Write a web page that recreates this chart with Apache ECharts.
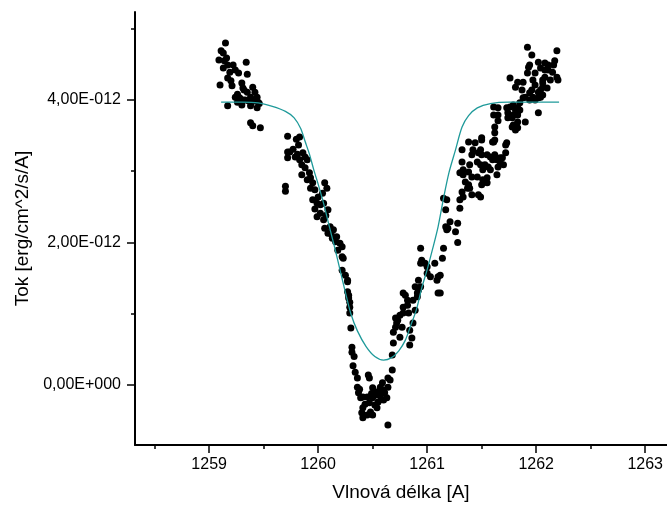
<!DOCTYPE html>
<html>
<head>
<meta charset="utf-8">
<title>Tok vs. vlnová délka</title>
<script src="https://cdn.jsdelivr.net/npm/echarts@6/dist/echarts.min.js"></script>
<style>
  html, body { margin: 0; padding: 0; background: #ffffff; }
  #chart { width: 667px; height: 510px; }
</style>
</head>
<body>
<div id="chart"></div>
<script>
// Observed spectrum around the absorption line: [wavelength (A), flux (1e-12 erg/cm^2/s/A)]
const blueContinuum = [
  [1259.15,4.80],[1259.11,4.69],[1259.13,4.66],[1259.09,4.56],[1259.16,4.59],[1259.34,4.53],[1259.13,4.45],
  [1259.17,4.49],[1259.22,4.49],[1259.24,4.42],[1259.19,4.39],[1259.27,4.38],[1259.35,4.36],[1259.17,4.31],
  [1259.30,4.24],[1259.10,4.21],[1259.21,4.20],[1259.31,4.17],[1259.40,4.18],[1259.35,4.11],[1259.42,4.11],
  [1259.24,4.04],[1259.28,4.03],[1259.38,4.04],[1259.44,4.04],[1259.26,3.97],[1259.31,4.00],[1259.39,3.97],
  [1259.45,3.97],[1259.17,3.92],[1259.30,3.93],[1259.38,3.92],[1259.44,3.89],[1259.38,3.68],[1259.40,3.64],
  [1259.47,3.61],[1259.20,4.27],[1259.33,4.00],[1259.26,4.08],[1259.36,3.99],[1259.41,4.00],[1259.14,4.55],
  [1259.32,4.14],[1259.46,3.95]
];
const blueWing = [
  [1259.72,3.49],[1259.80,3.45],[1259.83,3.48],[1259.82,3.37],[1259.72,3.27],[1259.74,3.27],[1259.77,3.31],
  [1259.86,3.26],[1259.72,3.19],[1259.79,3.20],[1259.83,3.16],[1259.90,3.16],[1259.85,3.09],[1259.88,3.05],
  [1259.85,2.95],[1259.70,2.79],[1259.70,2.72],[1259.90,2.88],[1259.93,2.91],[1259.95,2.84],[1259.93,2.76],
  [1259.97,2.74],[1260.06,2.84],[1260.08,2.76],[1260.04,2.69],[1259.95,2.60],[1259.99,2.55],[1260.02,2.53],
  [1260.05,2.55],[1260.09,2.46],[1259.99,2.36],[1260.02,2.41],[1260.05,2.32],[1260.06,2.20],[1260.11,2.22],
  [1260.14,2.18],[1260.09,2.13],[1260.13,2.06],[1260.17,2.08],[1260.16,2.01],[1260.20,1.99],[1260.22,1.94],
  [1260.18,1.89],[1260.22,1.80],[1260.23,1.78],[1260.22,1.61],[1260.25,1.54],[1260.27,1.47],[1260.27,1.31],
  [1260.28,1.26],[1260.29,1.16],[1260.29,1.09],[1259.81,3.24],[1259.88,3.20],[1259.92,2.98],[1260.00,2.64],
  [1260.07,2.38],[1260.12,2.12],[1259.97,2.47]
];
const lineCore = [
  [1260.27,1.45],[1260.28,1.22],[1260.29,1.01],[1260.30,0.80],[1260.31,0.53],[1260.31,0.46],[1260.32,0.27],
  [1260.34,0.18],[1260.36,0.10],[1260.36,-0.03],[1260.37,-0.11],[1260.39,-0.18],[1260.41,-0.17],[1260.45,-0.17],
  [1260.46,0.14],[1260.47,0.10],[1260.50,-0.04],[1260.52,-0.10],[1260.54,-0.14],[1260.50,-0.18],[1260.57,-0.03],
  [1260.59,0.03],[1260.60,-0.07],[1260.61,-0.11],[1260.57,-0.14],[1260.55,-0.24],[1260.52,-0.28],[1260.48,-0.38],
  [1260.45,-0.42],[1260.41,-0.32],[1260.40,-0.39],[1260.41,-0.46],[1260.50,-0.42],[1260.54,-0.32],[1260.64,0.10],
  [1260.66,0.07],[1260.64,-0.03],[1260.63,-0.18],[1260.60,-0.21],[1260.64,-0.56],[1260.47,-0.25],[1260.56,-0.08],
  [1260.58,-0.20],[1260.43,-0.27],[1260.49,-0.12],[1260.38,-0.06],[1260.33,0.40],
  [1260.68,0.21],[1260.68,0.42],[1260.69,0.59],[1260.69,0.74],[1260.71,0.81],[1260.72,0.87],[1260.73,0.91],
  [1260.75,0.98],[1260.71,0.94],[1260.77,0.81],[1260.75,0.67],[1260.78,1.09],[1260.82,1.12],[1260.80,1.26],
  [1260.83,1.01],[1260.84,0.77],[1260.86,0.66],[1260.84,0.56],[1260.89,1.05],[1260.91,1.24],[1260.92,1.33],
  [1260.94,1.38],[1260.92,1.47],[1261.09,1.47],[1261.10,1.29],[1260.87,0.87]
];
const redWing = [
  [1260.78,1.29],[1260.82,1.19],[1260.78,1.01],[1260.89,1.38],[1260.91,1.29],[1260.87,1.19],[1260.94,1.71],
  [1260.95,1.75],[1260.98,1.71],[1260.94,1.92],[1261.00,1.66],[1261.07,1.71],[1261.14,1.78],[1261.12,1.54],
  [1261.10,1.52],[1261.03,1.52],[1261.00,1.57],[1261.12,1.29],[1261.15,1.92],[1261.28,2.00],[1261.26,2.15],
  [1261.28,2.27],[1261.18,2.18],[1261.17,2.22],[1261.21,2.29],[1261.19,2.20],[1261.17,2.46],[1261.18,2.60],
  [1261.15,2.62],[1261.30,2.48],[1261.30,2.60],[1261.33,2.64],[1261.32,2.71],[1261.37,2.76],[1261.38,2.81],
  [1261.39,2.76],[1261.35,2.85],[1261.33,2.95],[1261.30,2.98],[1261.38,2.99],[1261.41,2.92],[1261.32,3.13],
  [1261.33,3.02],[1261.39,3.09],[1261.42,3.30],[1261.41,3.23],[1261.32,3.30],[1261.38,3.41],[1261.44,3.40],
  [1261.47,3.26],[1261.49,3.30],[1261.50,3.44],[1261.46,3.13],[1261.49,3.09],[1261.53,3.09],[1261.51,3.02],
  [1261.56,3.06],[1261.58,3.20],[1261.60,3.16],[1261.62,3.23],[1261.64,3.16],[1261.67,3.13],[1261.70,3.09],
  [1261.69,3.19],[1261.65,3.06],[1261.58,3.02],[1261.55,2.91],[1261.51,2.88],[1261.50,2.81],[1261.55,2.84],
  [1261.46,2.92],[1261.49,2.64],[1261.47,2.67],[1261.41,2.67],[1261.64,2.95],[1261.72,3.26],[1261.73,3.40],
  [1261.62,3.44],[1261.60,3.41],[1261.62,3.54],[1261.62,3.62],[1261.50,3.47],[1261.50,3.23],[1261.55,3.23],
  [1261.67,3.19],[1261.61,3.41],[1261.72,3.37]
];
const redContinuum = [
  [1261.61,3.79],[1261.61,3.90],[1261.74,3.82],[1261.76,3.90],[1261.81,3.86],[1261.83,3.82],[1261.78,3.75],
  [1261.83,3.61],[1261.79,3.65],[1261.90,3.69],[1261.79,3.93],[1261.85,3.96],[1262.02,3.82],
  [1261.92,4.74],[1261.96,4.63],[1262.19,4.69],[1262.02,4.53],[1261.94,4.49],[1262.11,4.49],[1262.17,4.55],
  [1261.92,4.38],[1261.99,4.38],[1262.08,4.42],[1262.15,4.39],[1262.19,4.32],[1261.76,4.31],[1261.83,4.25],
  [1261.88,4.25],[1261.97,4.28],[1262.06,4.28],[1262.13,4.28],[1262.20,4.28],[1261.81,4.18],[1261.87,4.14],
  [1261.99,4.21],[1262.06,4.18],[1262.02,4.11],[1261.94,4.10],[1262.06,4.07],[1261.97,4.04],[1262.04,4.04],
  [1261.88,4.03],[1261.99,4.00],[1261.73,3.89],[1261.83,3.89],[1261.85,3.86],[1261.79,3.79],[1261.83,3.79],
  [1261.74,3.75],[1261.83,3.69],[1261.78,3.62],[1261.81,3.58],[1261.65,3.89],[1261.65,3.79],[1261.65,3.71],
  [1262.08,4.52],[1262.16,4.49],[1261.93,4.46],[1262.04,4.45],[1262.11,4.42],[1262.08,4.32],[1262.06,4.24],
  [1262.10,4.17],[1261.96,4.14],[1262.04,4.14],[1261.90,4.04],[1261.94,4.00],[1262.02,4.03]
];

// Fitted line profile: [wavelength (A), flux (1e-12 erg/cm^2/s/A)]
const fitProfile = [
  [1259.11,3.97],[1259.30,3.97],[1259.45,3.96],[1259.58,3.91],[1259.70,3.84],[1259.78,3.75],[1259.84,3.60],
  [1259.88,3.42],[1259.92,3.24],[1259.96,3.02],[1260.00,2.82],[1260.05,2.55],[1260.10,2.24],[1260.15,1.94],
  [1260.20,1.62],[1260.25,1.30],[1260.30,1.00],[1260.36,0.76],[1260.44,0.54],[1260.52,0.40],[1260.60,0.35],
  [1260.67,0.38],[1260.74,0.48],[1260.80,0.63],[1260.85,0.84],[1260.90,1.05],[1260.95,1.36],[1261.00,1.62],
  [1261.05,1.91],[1261.10,2.22],[1261.15,2.62],[1261.20,2.98],[1261.26,3.30],[1261.32,3.62],[1261.38,3.78],
  [1261.46,3.89],[1261.58,3.95],[1261.75,3.97],[1262.21,3.97]
];

// Axis ticks
const xMajorTicks = [1259, 1260, 1261, 1262, 1263];
const xMinorTicks = [1258.5, 1259.5, 1260.5, 1261.5, 1262.5];
const yMajorTicks = [0, 2, 4];
const yMinorTicks = [1, 3, 5];
const yTickLabels = ['0,00E+000', '2,00E-012', '4,00E-012'];

const observed = [].concat(blueContinuum, blueWing, lineCore, redWing, redContinuum);

const FONT = '"Liberation Sans", Arial, Helvetica, sans-serif';
const xRange = { min: 1258.32, max: 1263.2 };
const yRange = { min: -0.842, max: 5.235 };

const axisLineStyle = { show: true, onZero: false, lineStyle: { color: '#000', width: 2 } };

const chart = echarts.init(document.getElementById('chart'), null, { renderer: 'canvas' });
chart.setOption({
  animation: false,
  backgroundColor: '#ffffff',
  grid: { left: 135, right: 0, top: 12, bottom: 65, containLabel: false },
  xAxis: [
    {
      type: 'value', position: 'bottom', min: xRange.min, max: xRange.max,
      axisLine: axisLineStyle,
      axisTick: { show: true, customValues: xMajorTicks, length: 8, lineStyle: { color: '#000', width: 1.5 } },
      axisLabel: {
        customValues: xMajorTicks, fontSize: 16, color: '#000', fontFamily: FONT, margin: 12,
        formatter: v => String(Math.round(v))
      },
      splitLine: { show: false },
      name: 'Vlnová délka [A]', nameLocation: 'middle', nameGap: 38,
      nameTextStyle: { fontSize: 19, color: '#000', fontFamily: FONT }
    },
    {
      type: 'value', position: 'bottom', min: xRange.min, max: xRange.max,
      axisLine: { show: false, onZero: false },
      axisTick: { show: true, customValues: xMinorTicks, length: 4, lineStyle: { color: '#000', width: 1.5 } },
      axisLabel: { show: false },
      splitLine: { show: false }
    }
  ],
  yAxis: [
    {
      type: 'value', position: 'left', min: yRange.min, max: yRange.max,
      axisLine: axisLineStyle,
      axisTick: { show: true, customValues: yMajorTicks, length: 8, lineStyle: { color: '#000', width: 1.5 } },
      axisLabel: {
        customValues: yMajorTicks, fontSize: 16, color: '#000', fontFamily: FONT, margin: 14,
        formatter: v => yTickLabels[yMajorTicks.indexOf(Math.round(v))] || ''
      },
      splitLine: { show: false },
      name: 'Tok [erg/cm^2/s/A]', nameLocation: 'middle', nameGap: 101,
      nameTextStyle: { fontSize: 19, color: '#000', fontFamily: FONT }
    },
    {
      type: 'value', position: 'left', min: yRange.min, max: yRange.max,
      axisLine: { show: false, onZero: false },
      axisTick: { show: true, customValues: yMinorTicks, length: 4, lineStyle: { color: '#000', width: 1.5 } },
      axisLabel: { show: false },
      splitLine: { show: false }
    }
  ],
  series: [
    {
      type: 'scatter', xAxisIndex: 0, yAxisIndex: 0,
      data: observed, symbol: 'circle', symbolSize: 7,
      itemStyle: { color: '#000', opacity: 1 }, silent: true, z: 2
    },
    {
      type: 'line', xAxisIndex: 0, yAxisIndex: 0,
      data: fitProfile, showSymbol: false, smooth: 0.3,
      lineStyle: { color: '#1f9a9a', width: 1.3 }, silent: true, z: 3
    }
  ]
});
</script>
</body>
</html>
